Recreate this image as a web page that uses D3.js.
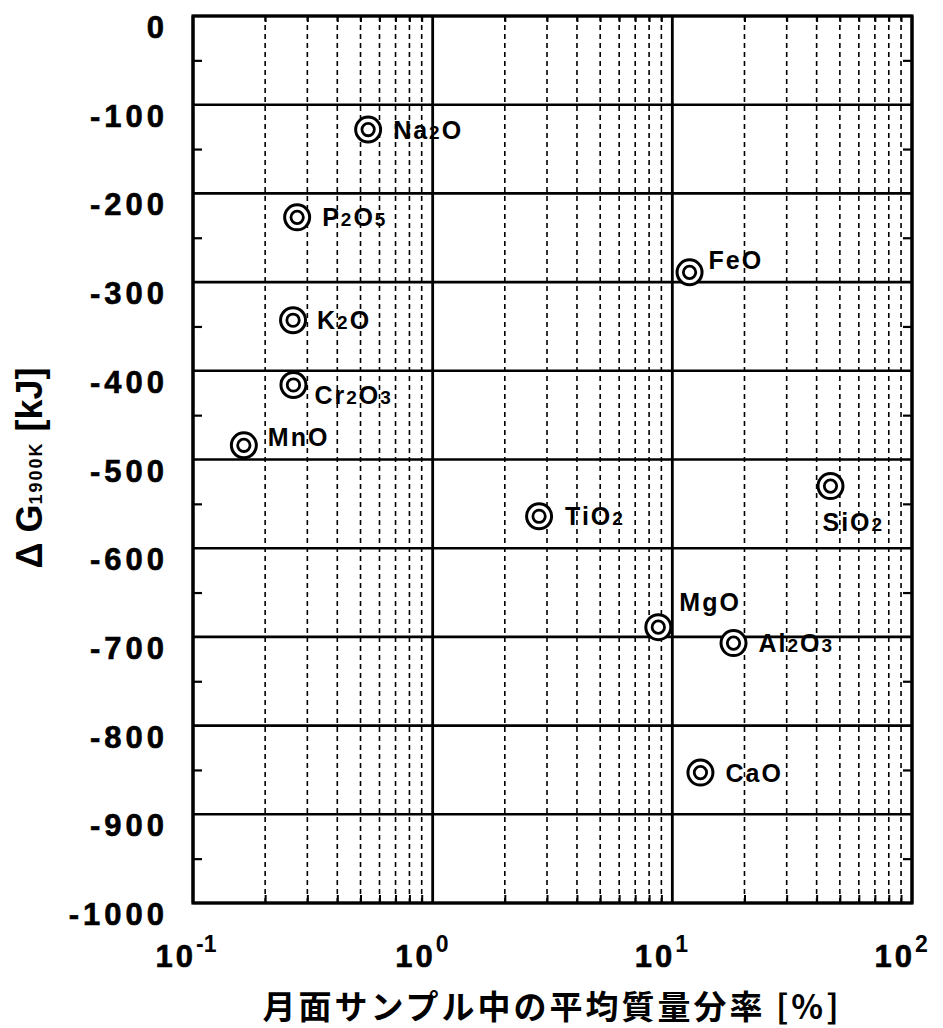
<!DOCTYPE html>
<html>
<head>
<meta charset="utf-8">
<script src="https://cdn.jsdelivr.net/npm/d3@7"></script>
<style>
  body { margin: 0; background: #fff; }
  svg { display: block; }
</style>
</head>
<body>
<div id="chart"></div>
<script>
// oxide data: mean mass fraction in lunar samples [%] vs dG at 1900K [kJ]
var oxides = ["Na2O", "P2O5", "K2O", "Cr2O3", "MnO", "TiO2", "FeO", "SiO2", "MgO", "Al2O3", "CaO"];
var massFraction = [0.538, 0.272, 0.2615, 0.2625, 0.163, 2.78, 11.8, 45.7, 8.74, 18.0, 13.1];
var deltaG = [-128, -227, -343, -416, -484, -564, -289, -530, -689, -707, -853];

var yTicks = [0, -100, -200, -300, -400, -500, -600, -700, -800, -900, -1000];
var yMinor = [-50, -150, -250, -350, -450, -550, -650, -750, -850, -950];
var xDecades = [0.1, 1, 10, 100];
var xExponents = ["-1", "0", "1", "2"];

// where each label sits relative to its marker
var labelPlace = {
  Na2O: [25, 9], P2O5: [25, 9], K2O: [24, 9], Cr2O3: [21, 19], MnO: [24, 1],
  TiO2: [26, 9], FeO: [19, -3], SiO2: [-8, 45], MgO: [21, -16], Al2O3: [25, 9], CaO: [25, 9]
};

var width = 943, height = 1028;
var margin = { top: 16, right: 31, bottom: 125, left: 193 };

var svg = d3.select("#chart")
  .append("svg")
  .attr("width", width)
  .attr("height", height);

var x = d3.scaleLog()
  .domain([0.1, 100])
  .range([margin.left, width - margin.right]);

var y = d3.scaleLinear()
  .domain([0, -1000])
  .range([margin.top, height - margin.bottom]);

var pTop = y(0), pBottom = y(-1000), pLeft = x(0.1), pRight = x(100);

// minor vertical grid (2..9 of each decade), dashed
var minorX = [];
xDecades.slice(0, 3).forEach(function(d) {
  for (var k = 2; k <= 9; k++) minorX.push(d * k);
});

svg.append("g")
  .selectAll("line")
  .data(minorX)
  .join("line")
    .attr("x1", d => x(d)).attr("x2", d => x(d))
    .attr("y1", pTop).attr("y2", pBottom)
    .attr("stroke", "#000")
    .attr("stroke-width", 1.6)
    .attr("stroke-dasharray", "5,4");

// small solid ticks at top and bottom of the minor lines
svg.append("g")
  .attr("transform", `translate(0,${pBottom})`)
  .call(d3.axisTop(x).tickValues(minorX).tickSize(8).tickFormat(""))
  .call(g => g.select(".domain").remove())
  .call(g => g.selectAll(".tick line").attr("stroke-width", 2));

svg.append("g")
  .attr("transform", `translate(0,${pTop})`)
  .call(d3.axisBottom(x).tickValues(minorX).tickSize(6).tickFormat(""))
  .call(g => g.select(".domain").remove())
  .call(g => g.selectAll(".tick line").attr("stroke-width", 2));

// decade lines
svg.append("g")
  .selectAll("line")
  .data(xDecades)
  .join("line")
    .attr("x1", d => x(d)).attr("x2", d => x(d))
    .attr("y1", pTop).attr("y2", pBottom)
    .attr("stroke", "#000")
    .attr("stroke-width", 2.8);

// horizontal grid every 100 kJ
svg.append("g")
  .selectAll("line")
  .data(yTicks)
  .join("line")
    .attr("x1", pLeft).attr("x2", pRight)
    .attr("y1", d => y(d)).attr("y2", d => y(d))
    .attr("stroke", "#000")
    .attr("stroke-width", 2.6);

// minor y ticks, inside, left and right
svg.append("g")
  .attr("transform", `translate(${pLeft},0)`)
  .call(d3.axisRight(y).tickValues(yMinor).tickSize(9).tickFormat(""))
  .call(g => g.select(".domain").remove())
  .call(g => g.selectAll(".tick line").attr("stroke-width", 2.2));

svg.append("g")
  .attr("transform", `translate(${pRight},0)`)
  .call(d3.axisLeft(y).tickValues(yMinor).tickSize(9).tickFormat(""))
  .call(g => g.select(".domain").remove())
  .call(g => g.selectAll(".tick line").attr("stroke-width", 2.2));

// frame
svg.append("rect")
  .attr("x", pLeft).attr("y", pTop)
  .attr("width", pRight - pLeft).attr("height", pBottom - pTop)
  .attr("fill", "none")
  .attr("stroke", "#000")
  .attr("stroke-width", 3.2);

// y tick labels
svg.append("g")
  .selectAll("text")
  .data(yTicks)
  .join("text")
    .attr("x", 168)
    .attr("y", d => y(d) + 22)
    .attr("text-anchor", "end")
    .style("font-family", "'Liberation Sans', Arial, sans-serif")
    .style("font-weight", "bold")
    .style("font-size", "31px")
    .style("letter-spacing", "4px")
    .style("stroke", "#000")
    .style("stroke-width", "0.6px")
    .text(d => d);

// x tick labels 10^n
svg.append("g")
  .selectAll("text")
  .data(xDecades)
  .join("text")
    .attr("x", d => x(d) + 3)
    .attr("y", 967)
    .attr("text-anchor", "end")
    .style("font-family", "'Liberation Sans', Arial, sans-serif")
    .style("font-weight", "bold")
    .style("font-size", "31px")
    .style("letter-spacing", "3px")
    .style("stroke", "#000")
    .style("stroke-width", "0.6px")
    .text("10");

svg.append("g")
  .selectAll("text")
  .data(xDecades)
  .join("text")
    .attr("x", d => x(d) + 3)
    .attr("y", 952)
    .style("font-family", "'Liberation Sans', Arial, sans-serif")
    .style("font-weight", "bold")
    .style("font-size", "23px")
    .text((d, i) => xExponents[i]);

// axis titles
svg.append("text")
  .attr("x", 552)
  .attr("y", 1019)
  .attr("text-anchor", "middle")
  .style("font-family", "'Noto Sans CJK JP', sans-serif")
  .style("font-weight", "bold")
  .style("font-size", "33px")
  .style("letter-spacing", "3px")
  .text("月面サンプル中の平均質量分率 [%]");

var yt = svg.append("text")
  .attr("transform", "translate(42,468) rotate(-90)")
  .attr("text-anchor", "middle")
  .style("font-family", "'Liberation Sans', Arial, sans-serif")
  .style("font-weight", "bold")
  .style("font-size", "36px");
yt.append("tspan").text("Δ G");
yt.append("tspan").style("font-size", "18px").style("letter-spacing", "2px").text("1900K");
yt.append("tspan").text(" [kJ]");

// markers: double circles
var pts = oxides.map((name, i) => ({ name: name, mf: massFraction[i], dg: deltaG[i] }));

var mk = svg.append("g")
  .selectAll("g")
  .data(pts)
  .join("g")
    .attr("transform", d => `translate(${x(d.mf)},${y(d.dg)})`);

mk.append("circle")
  .attr("r", 12.5)
  .attr("fill", "#fff")
  .attr("stroke", "#000")
  .attr("stroke-width", 3);

mk.append("circle")
  .attr("r", 6.2)
  .attr("fill", "none")
  .attr("stroke", "#000")
  .attr("stroke-width", 2.8);

// oxide labels with small digits
var lab = mk.append("text")
  .attr("x", d => labelPlace[d.name][0])
  .attr("y", d => labelPlace[d.name][1])
  .style("font-family", "'Liberation Sans', Arial, sans-serif")
  .style("font-weight", "bold")
  .style("font-size", "25px")
  .style("letter-spacing", "2px");

lab.each(function(d) {
  var t = d3.select(this);
  d.name.split(/(\d)/).filter(s => s.length).forEach(function(part) {
    var ts = t.append("tspan").text(part);
    if (/\d/.test(part)) ts.style("font-size", "19px");
  });
});
</script>
</body>
</html>
